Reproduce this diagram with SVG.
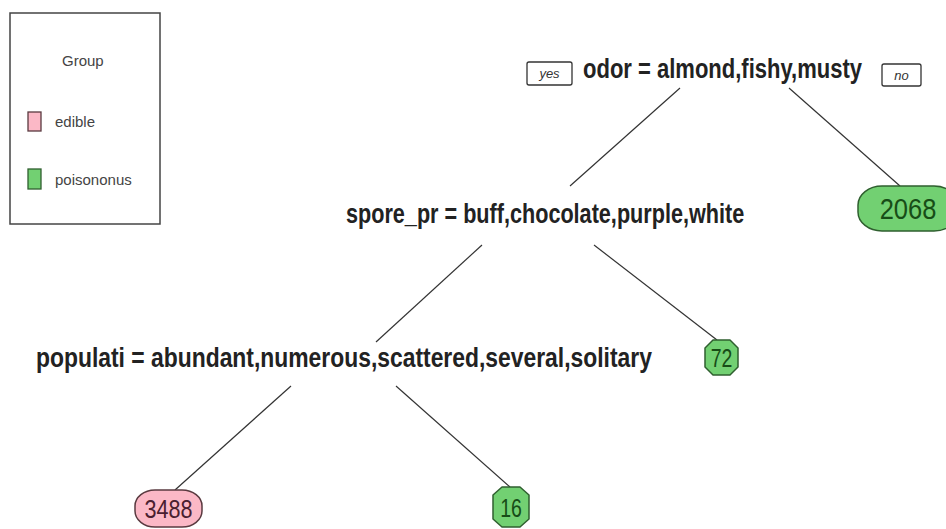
<svg xmlns="http://www.w3.org/2000/svg" width="946" height="529" viewBox="0 0 946 529">
<style>
.split{font-family:"Liberation Sans",Arial,sans-serif;font-weight:bold;font-size:28px;fill:#222}
.lab{font-family:"Liberation Sans",Arial,sans-serif;font-size:15px;fill:#444}
.yn{font-family:"Liberation Sans",Arial,sans-serif;font-style:italic;font-size:13px;fill:#333}
.ynbox{fill:#fff;stroke:#333;stroke-width:1.3}
.edge{stroke:#333;stroke-width:1.2;fill:none}
.gnode{fill:#72d072;stroke:#2f5f2f;stroke-width:1.5}
.pnode{fill:#fbb8c6;stroke:#5a3a40;stroke-width:1.5}
.gtxt{font-family:"Liberation Sans",Arial,sans-serif;font-size:26px;fill:#174d17;text-anchor:middle}
.ptxt{font-family:"Liberation Sans",Arial,sans-serif;font-size:26px;fill:#4a2030;text-anchor:middle}
</style>
<rect width="946" height="529" fill="#fff"/>
<g id="legend">
<rect x="10" y="13" width="150" height="211" fill="#fff" stroke="#444" stroke-width="1.5"/>
<text class="lab" x="62" y="66">Group</text>
<rect x="28" y="112" width="13" height="19" fill="#fbb8c6" stroke="#5a3a40" stroke-width="1.3"/>
<text class="lab" x="55" y="127">edible</text>
<rect x="28" y="169" width="13" height="20" fill="#72d072" stroke="#2f5f2f" stroke-width="1.3"/>
<text class="lab" x="55" y="185">poisononus</text>
</g>
<g id="connectors">
<line class="edge" x1="680" y1="88" x2="570" y2="186"/>
<line class="edge" x1="789" y1="88" x2="900" y2="186"/>
<line class="edge" x1="482" y1="245" x2="376" y2="342"/>
<line class="edge" x1="594" y1="245" x2="717" y2="340"/>
<line class="edge" x1="291" y1="386" x2="175" y2="490"/>
<line class="edge" x1="396" y1="386" x2="510" y2="487"/>
</g>
<g id="node-root">
<rect class="ynbox" x="527" y="62" width="45" height="23" rx="2"/>
<text class="yn" x="549.5" y="78" text-anchor="middle">yes</text>
<text class="split" transform="translate(583,78) scale(0.78,1)" textLength="357.7" lengthAdjust="spacingAndGlyphs">odor = almond,fishy,musty</text>
<rect class="ynbox" x="882" y="64" width="39" height="22" rx="2"/>
<text class="yn" x="901.5" y="80" text-anchor="middle">no</text>
</g>
<g id="node-2068">
<rect class="gnode" x="858" y="186" width="100" height="45" rx="24" ry="19"/>
<text class="gtxt" transform="translate(908,219) scale(0.85,1)" style="font-size:30px">2068</text>
</g>
<g id="node-spore">
<text class="split" transform="translate(346,223) scale(0.772,1)" textLength="515.8" lengthAdjust="spacingAndGlyphs">spore_pr = buff,chocolate,purple,white</text>
</g>
<g id="node-72">
<path class="gnode" d="M713,340 H730 L738,348 V367 L730,375 H713 L705,367 V348 Z" stroke-linejoin="round"/>
<text class="gtxt" transform="translate(721.5,367) scale(0.75,1)">72</text>
</g>
<g id="node-populati">
<text class="split" transform="translate(36,367) scale(0.817,1)" textLength="753.9" lengthAdjust="spacingAndGlyphs">populati = abundant,numerous,scattered,several,solitary</text>
</g>
<g id="node-3488">
<rect class="pnode" x="135" y="490" width="67" height="37" rx="20" ry="16"/>
<text class="ptxt" transform="translate(168.5,518) scale(0.83,1)">3488</text>
</g>
<g id="node-16">
<path class="gnode" d="M502,487 H520 L529,495 V519 L520,527 H502 L493,519 V495 Z" stroke-linejoin="round"/>
<text class="gtxt" transform="translate(511,517) scale(0.75,1)">16</text>
</g>
</svg>
